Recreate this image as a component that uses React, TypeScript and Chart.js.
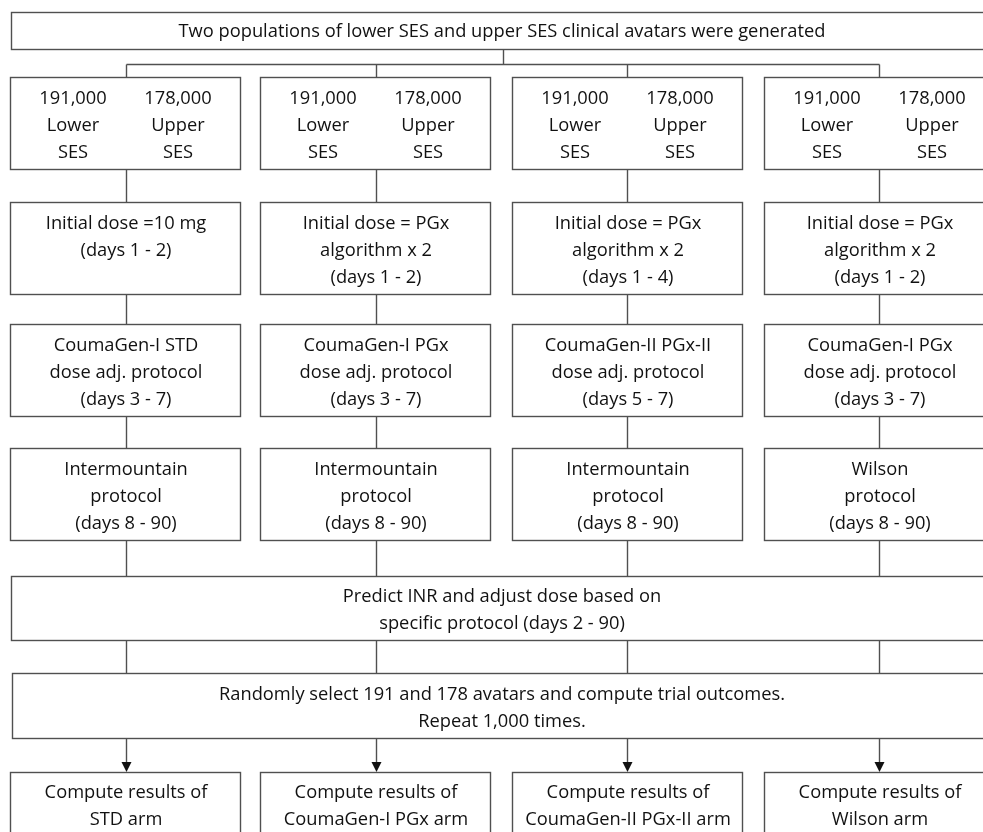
import React, { useEffect, useRef } from "react";
import { Chart, registerables } from "chart.js";

Chart.register(...registerables);

// ---- Data ----
const topTitle = "Two populations of lower SES and upper SES clinical avatars were generated";
const lowerSESCount = "191,000";
const upperSESCount = "178,000";
const initialDose = [
  ["Initial dose =10 mg", "(days 1 - 2)"],
  ["Initial dose = PGx", "algorithm x 2", "(days 1 - 2)"],
  ["Initial dose = PGx", "algorithm x 2", "(days 1 - 4)"],
  ["Initial dose = PGx", "algorithm x 2", "(days 1 - 2)"],
];
const adjustProtocol = [
  ["CoumaGen-I STD", "dose adj. protocol", "(days 3 - 7)"],
  ["CoumaGen-I PGx", "dose adj. protocol", "(days 3 - 7)"],
  ["CoumaGen-II PGx-II", "dose adj. protocol", "(days 5 - 7)"],
  ["CoumaGen-I PGx", "dose adj. protocol", "(days 3 - 7)"],
];
const maintenanceProtocol = [
  ["Intermountain", "protocol", "(days 8 - 90)"],
  ["Intermountain", "protocol", "(days 8 - 90)"],
  ["Intermountain", "protocol", "(days 8 - 90)"],
  ["Wilson", "protocol", "(days 8 - 90)"],
];
const predictText = ["Predict INR and adjust dose based on", "specific protocol (days 2 - 90)"];
const randomText = ["Randomly select 191 and 178 avatars and compute trial outcomes.", "Repeat 1,000 times."];
const resultText = [
  ["Compute results of", "STD arm"],
  ["Compute results of", "CoumaGen-I PGx arm"],
  ["Compute results of", "CoumaGen-II PGx-II arm"],
  ["Compute results of", "Wilson arm"],
];

// ---- Layout (diagram units = page px) ----
const columnLeft = [10, 260, 512, 764];
const columnWidth = 230;
const columnCenter = [126, 376, 627, 879];
const titleBox = [11, 12, 994, 49];
const branchY = 64;
const titleStemX = 503;
const rowBoxes = [
  [77, 169],
  [202, 294],
  [324, 416],
  [448, 540],
];
const predictBox = [11, 576, 994, 640];
const randomBox = [12, 673, 994, 738];
const resultBox = [772, 860];
const lineGap = 27;
const textShift = 1.5;

const FONT = '18.3px "Open Sans"';
const LINE = "#505050";
const TEXT = "#111111";

const flowPlugin = {
  id: "flow",
  afterDraw(chart: any) {
    const ctx = chart.ctx as CanvasRenderingContext2D;
    const sx = chart.scales.x;
    const sy = chart.scales.y;
    const X = (v: number) => sx.getPixelForValue(v);
    const Y = (v: number) => sy.getPixelForValue(v);

    ctx.save();
    ctx.strokeStyle = LINE;
    ctx.lineWidth = 1.4;
    ctx.fillStyle = "#ffffff";

    const rect = (x0: number, y0: number, x1: number, y1: number) => {
      const a = Math.round(X(x0)) + 0.5, b = Math.round(Y(y0)) + 0.5;
      const c = Math.round(X(x1)) + 0.5, d = Math.round(Y(y1)) + 0.5;
      ctx.fillStyle = "#ffffff";
      ctx.fillRect(a, b, c - a, d - b);
      ctx.strokeStyle = LINE;
      ctx.strokeRect(a, b, c - a, d - b);
    };
    const line = (x0: number, y0: number, x1: number, y1: number) => {
      ctx.strokeStyle = LINE;
      ctx.beginPath();
      ctx.moveTo(Math.round(X(x0)) + 0.5, Math.round(Y(y0)) + 0.5);
      ctx.lineTo(Math.round(X(x1)) + 0.5, Math.round(Y(y1)) + 0.5);
      ctx.stroke();
    };
    const arrow = (x: number, y0: number, y1: number) => {
      line(x, y0, x, y1 - 8);
      const px = Math.round(X(x)) + 0.5;
      const py = Y(y1);
      ctx.fillStyle = "#111";
      ctx.beginPath();
      ctx.moveTo(px - 5, py - 10);
      ctx.lineTo(px + 5, py - 10);
      ctx.lineTo(px, py);
      ctx.closePath();
      ctx.fill();
    };
    const lines = (cx: number, firstY: number, arr: string[]) => {
      ctx.fillStyle = TEXT;
      ctx.font = FONT;
      ctx.textAlign = "center";
      ctx.textBaseline = "middle";
      arr.forEach((t, i) => ctx.fillText(t, X(cx), Y(firstY + textShift + i * lineGap)));
    };

    // connectors
    line(titleStemX, titleBox[3], titleStemX, branchY);
    line(columnCenter[0], branchY, columnCenter[3], branchY);
    columnCenter.forEach((cx) => {
      line(cx, branchY, cx, rowBoxes[0][0]);
      for (let r = 0; r < rowBoxes.length - 1; r++) line(cx, rowBoxes[r][1], cx, rowBoxes[r + 1][0]);
      line(cx, rowBoxes[3][1], cx, predictBox[1]);
      line(cx, predictBox[3], cx, randomBox[1]);
      arrow(cx, randomBox[3], resultBox[0]);
    });

    // boxes
    rect(titleBox[0], titleBox[1], titleBox[2], titleBox[3]);
    lines(502, (titleBox[1] + titleBox[3]) / 2, [topTitle]);

    const rowTexts = [initialDose, adjustProtocol, maintenanceProtocol];
    columnLeft.forEach((lx, c) => {
      rect(lx, rowBoxes[0][0], lx + columnWidth, rowBoxes[0][1]);
      lines(lx + 63, 97, [lowerSESCount, "Lower", "SES"]);
      lines(lx + 168, 97, [upperSESCount, "Upper", "SES"]);
      rowTexts.forEach((rt, r) => {
        const [t, b] = rowBoxes[r + 1];
        rect(lx, t, lx + columnWidth, b);
        lines(lx + 116, t + 20, rt[c]);
      });
      rect(lx, resultBox[0], lx + columnWidth, resultBox[1]);
      lines(lx + 116, 791, resultText[c]);
    });

    rect(predictBox[0], predictBox[1], predictBox[2], predictBox[3]);
    lines(502, 595, predictText);
    rect(randomBox[0], randomBox[1], randomBox[2], randomBox[3]);
    lines(502, 693, randomText);

    ctx.restore();
  },
};

export default function App() {
  const ref = useRef<HTMLCanvasElement | null>(null);
  useEffect(() => {
    document.body.style.margin = "0";
    const chart = new Chart(ref.current as HTMLCanvasElement, {
      type: "scatter",
      data: { datasets: [{ data: [], showLine: false }] },
      options: {
        animation: false,
        responsive: false,
        maintainAspectRatio: false,
        layout: { padding: 0 },
        plugins: { legend: { display: false }, tooltip: { enabled: false } },
        scales: {
          x: { type: "linear", min: 0, max: 983, display: false },
          y: { type: "linear", min: 0, max: 832, reverse: true, display: false },
        },
      },
      plugins: [flowPlugin],
    });
    return () => chart.destroy();
  }, []);
  return (
    <div style={{ width: 983, height: 832, background: "#fff" }}>
      <canvas ref={ref} width={983} height={832} style={{ display: "block" }} />
    </div>
  );
}
